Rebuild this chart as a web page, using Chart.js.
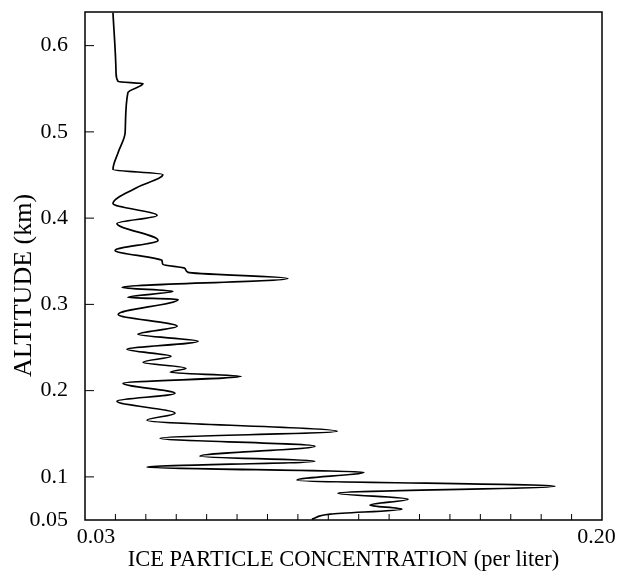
<!DOCTYPE html>
<html>
<head>
<meta charset="utf-8">
<script src="https://cdn.jsdelivr.net/npm/chart.js@4"></script>
<style>
  body { margin: 0; background: #fff; }
  #wrap { width: 618px; height: 574px; }
</style>
</head>
<body>
<div id="wrap"><canvas id="iceChart"></canvas></div>
<script>
// Ice particle concentration profile (bottom to top)
const altitudeKm = [0.0510, 0.0568, 0.0626, 0.0672, 0.0742, 0.0811, 0.0892, 0.0962, 0.1054, 0.1112,
  0.1182, 0.1240, 0.1356, 0.1448, 0.1529, 0.1657, 0.1738, 0.1877, 0.1969, 0.2085,
  0.2166, 0.2213, 0.2259, 0.2329, 0.2398, 0.2479, 0.2572, 0.2653, 0.2745, 0.2884,
  0.3058, 0.3081, 0.3151, 0.3197, 0.3301, 0.3371, 0.3417, 0.3464, 0.3510, 0.3533,
  0.3626, 0.3742, 0.3938, 0.4031, 0.4170, 0.4355, 0.4506, 0.4564, 0.4761, 0.4992,
  0.5456, 0.5560, 0.5583, 0.5687, 0.6382];
const concentration = [0.1046, 0.1106, 0.1342, 0.1237, 0.1362, 0.1132, 0.1845, 0.0997, 0.1217, 0.0504,
  0.1056, 0.0678, 0.1056, 0.0547, 0.1129, 0.0504, 0.0596, 0.0405, 0.0596, 0.0425,
  0.0813, 0.0580, 0.0632, 0.0491, 0.0583, 0.0438, 0.0672, 0.0474, 0.0603, 0.0409,
  0.0606, 0.0441, 0.0589, 0.0422, 0.0967, 0.0639, 0.0629, 0.0556, 0.0553, 0.0530,
  0.0399, 0.0540, 0.0405, 0.0537, 0.0392, 0.0471, 0.0556, 0.0392, 0.0409, 0.0432,
  0.0441, 0.0491, 0.0409, 0.0402, 0.0392];

const yTicks = [0.05, 0.1, 0.2, 0.3, 0.4, 0.5, 0.6];
const yTickLabels = ["0.05", "0.1", "0.2", "0.3", "0.4", "0.5", "0.6"];
const xTicks = [0.03, 0.20];
// en spaces nudge the end labels the way the printed figure has them
const xTickLabels = ["\u2002\u20020.03", "0.20\u2002"];
const xMinorTicks = [0.04, 0.05, 0.06, 0.07, 0.08, 0.09, 0.10, 0.11, 0.12, 0.13,
  0.14, 0.15, 0.16, 0.17, 0.18, 0.19];

const serif = "'Liberation Serif', 'Times New Roman', serif";

// box around the plot plus the small inward tick marks
const framePlugin = {
  id: "frame",
  afterDatasetsDraw(chart) {
    const { ctx, chartArea: a, scales } = chart;
    ctx.save();
    ctx.strokeStyle = "#000";
    ctx.lineWidth = 1.5;
    ctx.strokeRect(a.left, a.top, a.right - a.left, a.bottom - a.top);
    ctx.beginPath();
    yTicks.slice(1).forEach((v) => {
      const py = scales.y.getPixelForValue(v);
      ctx.moveTo(a.left, py);
      ctx.lineTo(a.left + 9, py);
    });
    xMinorTicks.forEach((v) => {
      const px = scales.x.getPixelForValue(v);
      ctx.moveTo(px, a.bottom);
      ctx.lineTo(px, a.bottom - 6);
    });
    ctx.lineWidth = 1;
    ctx.stroke();
    ctx.restore();
  },
};

const points = altitudeKm.map((alt, i) => ({ x: concentration[i], y: alt }));

new Chart(document.getElementById("iceChart"), {
  type: "line",
  data: {
    datasets: [
      {
        data: points,
        borderColor: "#000",
        borderWidth: 1.7,
        pointRadius: 0,
        fill: false,
        cubicInterpolationMode: "monotone",
      },
    ],
  },
  options: {
    indexAxis: "y",
    responsive: true,
    maintainAspectRatio: false,
    animation: false,
    layout: { padding: { top: 12, right: 16, left: 0, bottom: 0 } },
    plugins: { legend: { display: false }, tooltip: { enabled: false } },
    scales: {
      x: {
        type: "linear",
        min: 0.03,
        max: 0.2,
        grid: { display: false },
        border: { display: false },
        afterBuildTicks: (scale) => {
          scale.ticks = xTicks.map((v) => ({ value: v }));
        },
        afterFit: (scale) => {
          scale.height = 54;
          scale.paddingLeft = 0;
          scale.paddingRight = 0;
        },
        ticks: {
          autoSkip: false,
          maxRotation: 0,
          padding: -4,
          color: "#000",
          font: { family: serif, size: 22 },
          callback: (v, i) => xTickLabels[i],
        },
        title: {
          display: true,
          text: "ICE PARTICLE CONCENTRATION (per liter)",
          color: "#000",
          font: { family: serif, size: 22.5 },
          padding: { top: 0, bottom: 0.5 },
        },
      },
      y: {
        type: "linear",
        min: 0.05,
        max: 0.639,
        grid: { display: false },
        border: { display: false },
        afterBuildTicks: (scale) => {
          scale.ticks = yTicks.map((v) => ({ value: v }));
        },
        afterFit: (scale) => {
          scale.width = 85;
          scale.paddingTop = 0;
          scale.paddingBottom = 0;
        },
        ticks: {
          autoSkip: false,
          padding: 9,
          color: "#000",
          font: { family: serif, size: 22 },
          callback: (v, i) => yTickLabels[i],
        },
        title: {
          display: true,
          // trailing en spaces push the rotated text a little lower, as in the figure
          text: "ALTITUDE (km)\u2002\u2002\u2002",
          color: "#000",
          font: { family: serif, size: 26 },
          padding: { top: 9, bottom: 0 },
        },
      },
    },
  },
  plugins: [framePlugin],
});
</script>
</body>
</html>
